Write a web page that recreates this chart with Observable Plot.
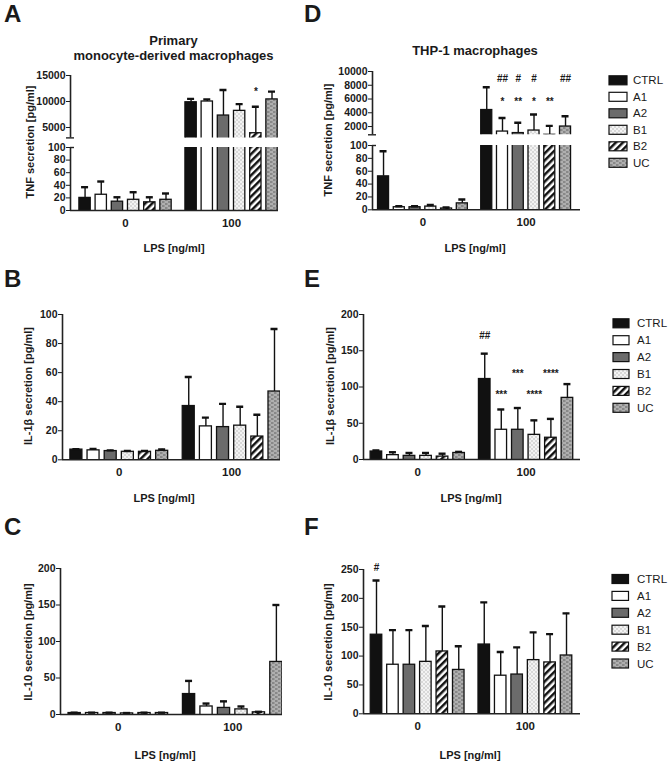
<!DOCTYPE html>
<html>
<head>
<meta charset="utf-8">
<script src="https://cdn.jsdelivr.net/npm/d3@7"></script>
<script src="https://cdn.jsdelivr.net/npm/@observablehq/plot@0.6"></script>
<style>
html,body{margin:0;padding:0;background:#fff;}
#fig{position:relative;width:671px;height:765px;overflow:hidden;background:#fff;color:#1a1a1a;
  font-family:"Liberation Sans",Arial,Helvetica,sans-serif;}
#fig svg.seg{position:absolute;}
#fig svg.seg text{font-weight:bold;}
#fig [aria-label="x-axis tick label"]{font-size:11.5px;}
</style>
</head>
<body>
<svg width="0" height="0" style="position:absolute">
  <defs>
    <pattern id="pat-B1" patternUnits="userSpaceOnUse" width="4" height="4">
      <rect width="4" height="4" fill="#f3f3f3"/>
      <rect x="0.5" y="0.5" width="1" height="1" fill="#8a8a8a"/>
      <rect x="2.5" y="2.5" width="1" height="1" fill="#8a8a8a"/>
    </pattern>
    <pattern id="pat-B2" patternUnits="userSpaceOnUse" width="5" height="5" patternTransform="rotate(45)">
      <rect width="5" height="5" fill="#ffffff"/>
      <rect width="2.5" height="5" fill="#111111"/>
    </pattern>
    <pattern id="pat-UC" patternUnits="userSpaceOnUse" width="6" height="4">
      <rect width="6" height="4" fill="#888888"/>
      <rect x="0.5" y="0.5" width="3.5" height="1" fill="#d6d6d6"/>
      <rect x="3.5" y="2.5" width="3.5" height="1" fill="#d6d6d6"/>
      <rect x="-2.5" y="2.5" width="3.5" height="1" fill="#d6d6d6"/>
    </pattern>
  </defs>
</svg>
<div id="fig"></div>
<script>
// ---------------- data ----------------
const treatments = ["CTRL", "A1", "A2", "B1", "B2", "UC"];
const lpsLevels = ["0", "100"];

// Panel A: TNF, primary monocyte-derived macrophages (pg/ml)
const tnfPrimaryMean0 = [20, 25, 14, 17, 13, 17];
const tnfPrimarySd0 = [17, 21, 7, 12, 8, 10];
const tnfPrimaryMean100 = [9850, 10000, 7300, 8200, 3900, 10400];
const tnfPrimarySd100 = [650, 400, 4900, 1300, 5100, 1500];
const tnfPrimaryAnn = [{lps: "100", t: "B2", y: 12500, label: "*"}];

// Panel D: TNF, THP-1 macrophages
const tnfThpMean0 = [52, 4, 4, 5, 2, 10];
const tnfThpSd0 = [39, 1.5, 1.5, 2.5, 1.5, 6];
const tnfThpMean100 = [4400, 1270, 1050, 1420, 800, 2000];
const tnfThpSd100 = [3300, 1980, 1500, 2330, 1300, 1500];
const tnfThpAnn = [
  {lps: "100", t: "A1", y: 9000, label: "##"},
  {lps: "100", t: "A2", y: 9000, label: "#"},
  {lps: "100", t: "B1", y: 9000, label: "#"},
  {lps: "100", t: "UC", y: 9000, label: "##"},
  {lps: "100", t: "A1", y: 6000, label: "*"},
  {lps: "100", t: "A2", y: 6000, label: "**"},
  {lps: "100", t: "B1", y: 6000, label: "*"},
  {lps: "100", t: "B2", y: 6000, label: "**"}
];

// Panel B: IL-1β, primary
const il1PrimaryMean0 = [7, 6.5, 6, 5.5, 5.5, 6.2];
const il1PrimarySd0 = [0.3, 1, 0.5, 0.6, 0.6, 1];
const il1PrimaryMean100 = [37, 23, 22.5, 23.5, 16, 47];
const il1PrimarySd100 = [20, 6, 16, 13, 15, 43];

// Panel E: IL-1β, THP-1
const il1ThpMean0 = [11, 6, 5, 5, 4, 9];
const il1ThpSd0 = [1.5, 4, 4, 4, 4, 1.5];
const il1ThpMean100 = [111, 41, 41, 34, 30, 85];
const il1ThpSd100 = [35, 28, 30, 20, 26, 19];
const il1ThpAnn = [
  {lps: "100", t: "CTRL", y: 170, label: "##"},
  {lps: "100", t: "A1", y: 93, label: "***"},
  {lps: "100", t: "A2", y: 122, label: "***"},
  {lps: "100", t: "B1", y: 93, label: "****"},
  {lps: "100", t: "B2", y: 122, label: "****"}
];

// Panel C: IL-10, primary
const il10PrimaryMean0 = [2, 2, 2, 1.5, 2, 2];
const il10PrimarySd0 = [0.5, 0.5, 0.5, 0.5, 0.5, 0.5];
const il10PrimaryMean100 = [28, 11, 9, 7, 3, 72];
const il10PrimarySd100 = [18, 4, 9, 4, 0.7, 78];

// Panel F: IL-10, THP-1
const il10ThpMean0 = [137, 85, 85, 90, 108, 76];
const il10ThpSd0 = [94, 60, 60, 62, 78, 41];
const il10ThpMean100 = [120, 66, 68, 93, 89, 101];
const il10ThpSd100 = [73, 41, 47, 48, 49, 73];
const il10ThpAnn = [{lps: "0", t: "CTRL", y: 253, label: "#"}];

// ---------------- helpers ----------------
const FONT = '"Liberation Sans", Arial, Helvetica, sans-serif';
const INK = "#1a1a1a";
const fills = {CTRL: "#111111", A1: "#ffffff", A2: "#6b6b6b", B1: "url(#pat-B1)", B2: "url(#pat-B2)", UC: "url(#pat-UC)"};
const GROUP_OFFSET = 6.55;
const BAR_FRAC = 0.7;

function rows(m0, s0, m100, s100) {
  return [
    ...treatments.map((t, i) => ({lps: lpsLevels[0], t, v: m0[i], e: s0[i]})),
    ...treatments.map((t, i) => ({lps: lpsLevels[1], t, v: m100[i], e: s100[i]}))
  ];
}
const pos = d => (d.lps === lpsLevels[1] ? GROUP_OFFSET : 0) + treatments.indexOf(d.t);

const fig = document.getElementById("fig");

function segment(cfg) {
  const {data, ann = [], left, right, top, bottom, yDomain, yTicks, xDomain, showX = false,
         breakBelow = false, breakAbove = false} = cfg;
  const ml = 44, mr = 6, mt = 10, mb = showX ? 26 : 4;
  const w = right - left, h = bottom - top;
  const pxPerX = w / (xDomain[1] - xDomain[0]);
  const half = BAR_FRAC / 2;
  const cap = 3.5 / pxPerX;
  const tk = 4 / pxPerX;
  const span = yDomain[1] - yDomain[0];
  const stars = ann.filter(a => a.label.includes("*"));
  const hashes = ann.filter(a => a.label.includes("#"));
  const marks = [
    Plot.rect(data, {x1: d => pos(d) - half, x2: d => pos(d) + half,
      y1: () => yDomain[0] - span, y2: "v", fill: "t", stroke: "#111", strokeWidth: 1.3, clip: true}),
    Plot.ruleX(data, {x: pos, y1: "v", y2: d => d.v + d.e, stroke: "#111", strokeWidth: 1.4, clip: true}),
    Plot.ruleY(data, {y: d => d.v + d.e, x1: d => pos(d) - cap, x2: d => pos(d) + cap,
      stroke: "#111", strokeWidth: 2.4, clip: true}),
    Plot.ruleX([xDomain[0]], {stroke: "#222", strokeWidth: 1.6}),
    Plot.text(stars, {x: pos, y: "y", text: "label", fontSize: 10, fontWeight: "bold", dy: 3, fill: INK}),
    Plot.text(hashes, {x: pos, y: "y", text: "label", fontSize: 10, fontWeight: "bold", dy: 0, fill: INK})
  ];
  if (showX) marks.push(Plot.ruleY([yDomain[0]], {stroke: "#222", strokeWidth: 1.6}));
  if (breakBelow) marks.push(Plot.ruleY([yDomain[0]], {x1: xDomain[0] - tk, x2: xDomain[0] + tk, stroke: "#222", strokeWidth: 1.4}));
  if (breakAbove) marks.push(Plot.ruleY([yDomain[1]], {x1: xDomain[0], x2: xDomain[0] + tk, stroke: "#222", strokeWidth: 1.4}));
  const svg = Plot.plot({
    width: ml + w + mr,
    height: mt + h + mb,
    marginLeft: ml, marginRight: mr, marginTop: mt, marginBottom: mb,
    style: {fontFamily: FONT, fontSize: "10.5px", fontWeight: "bold", color: INK, background: "transparent", overflow: "visible"},
    x: showX
      ? {domain: xDomain, ticks: [2.5, GROUP_OFFSET + 2.5], tickFormat: d => lpsLevels[Math.round(d / GROUP_OFFSET)],
         tickSize: 0, tickPadding: 8, label: null}
      : {domain: xDomain, axis: null},
    y: {domain: yDomain, ticks: yTicks, tickSize: 4, tickPadding: 1, tickFormat: d => String(d), label: null},
    color: {domain: treatments, range: treatments.map(t => fills[t])},
    marks
  });
  svg.classList.add("seg");
  svg.style.left = (left - ml) + "px";
  svg.style.top = (top - mt) + "px";
  fig.appendChild(svg);
}

// ---------------- panels ----------------
const dataA = rows(tnfPrimaryMean0, tnfPrimarySd0, tnfPrimaryMean100, tnfPrimarySd100);
const dataD = rows(tnfThpMean0, tnfThpSd0, tnfThpMean100, tnfThpSd100);
const dataB = rows(il1PrimaryMean0, il1PrimarySd0, il1PrimaryMean100, il1PrimarySd100);
const dataE = rows(il1ThpMean0, il1ThpSd0, il1ThpMean100, il1ThpSd100);
const dataC = rows(il10PrimaryMean0, il10PrimarySd0, il10PrimaryMean100, il10PrimarySd100);
const dataF = rows(il10ThpMean0, il10ThpSd0, il10ThpMean100, il10ThpSd100);

segment({data: dataA, ann: tnfPrimaryAnn, left: 70, right: 278, top: 75, bottom: 137.4,
  yDomain: [3000, 15000], yTicks: [5000, 10000, 15000], xDomain: [-0.9, 11.95], breakBelow: true});
segment({data: dataA, left: 70, right: 278, top: 147, bottom: 210,
  yDomain: [0, 100], yTicks: [0, 20, 40, 60, 80, 100], xDomain: [-0.9, 11.95], showX: true, breakAbove: true});

segment({data: dataD, ann: tnfThpAnn, left: 372, right: 580, top: 71, bottom: 134.3,
  yDomain: [800, 10000], yTicks: [2000, 4000, 6000, 8000, 10000], xDomain: [-0.7, 12.5], breakBelow: true});
segment({data: dataD, left: 372, right: 580, top: 145, bottom: 209.3,
  yDomain: [0, 100], yTicks: [0, 20, 40, 60, 80, 100], xDomain: [-0.7, 12.5], showX: true, breakAbove: true});

segment({data: dataB, left: 62, right: 280, top: 314, bottom: 459.3,
  yDomain: [0, 100], yTicks: [0, 20, 40, 60, 80, 100], xDomain: [-0.81, 11.9], showX: true});
segment({data: dataE, ann: il1ThpAnn, left: 363, right: 580, top: 314, bottom: 459,
  yDomain: [0, 200], yTicks: [0, 50, 100, 150, 200], xDomain: [-0.78, 12.34], showX: true});

segment({data: dataC, left: 60, right: 282, top: 568, bottom: 714,
  yDomain: [0, 200], yTicks: [0, 50, 100, 150, 200], xDomain: [-0.81, 11.9], showX: true});
segment({data: dataF, ann: il10ThpAnn, left: 363, right: 580, top: 569, bottom: 713.3,
  yDomain: [0, 250], yTicks: [0, 50, 100, 150, 200, 250], xDomain: [-0.79, 12.4], showX: true});

// ---------------- overlay text & legends ----------------
const ov = d3.select(fig).append("svg")
  .attr("width", 671).attr("height", 765)
  .style("position", "absolute").style("left", "0px").style("top", "0px")
  .style("pointer-events", "none")
  .attr("font-family", FONT).attr("fill", INK);

[["A", 4, 22], ["D", 304, 22], ["B", 4, 287], ["E", 304, 287], ["C", 4, 535], ["F", 304, 535]]
  .forEach(([s, x, y]) => ov.append("text").attr("x", x).attr("y", y)
    .attr("font-size", 24).attr("font-weight", "bold").text(s));

[["Primary", 173.5, 44.5], ["monocyte-derived macrophages", 173.5, 59.5], ["THP-1 macrophages", 475, 54.5]]
  .forEach(([s, x, y]) => ov.append("text").attr("x", x).attr("y", y).attr("text-anchor", "middle")
    .attr("font-size", 13).attr("font-weight", "bold").text(s));

[["TNF secretion [pg/ml]", 30.5, 142], ["TNF secretion [pg/ml]", 328, 140],
 ["IL-1β secretion [pg/ml]", 28.5, 386], ["IL-1β secretion [pg/ml]", 330, 386],
 ["IL-10 secretion [pg/ml]", 28.5, 642], ["IL-10 secretion [pg/ml]", 328, 642]]
  .forEach(([s, x, y]) => ov.append("text")
    .attr("transform", `translate(${x},${y}) rotate(-90)`).attr("dy", "0.35em")
    .attr("text-anchor", "middle").attr("font-size", 11).attr("font-weight", "bold").text(s));

[[174, 248], [475, 248], [164, 498], [471, 498], [165, 755], [470, 755]]
  .forEach(([x, y]) => ov.append("text").attr("x", x).attr("y", y + 3.5).attr("text-anchor", "middle")
    .attr("font-size", 11).attr("font-weight", "bold").text("LPS [ng/ml]"));

function legend(x, w, tx, y0, step) {
  treatments.forEach((t, i) => {
    const y = y0 + i * step;
    ov.append("rect").attr("x", x).attr("y", y - 4.5).attr("width", w).attr("height", 9)
      .attr("fill", fills[t]).attr("stroke", "#111").attr("stroke-width", 1.2);
    ov.append("text").attr("x", tx).attr("y", y + 4).attr("font-size", 11.5).text(t);
  });
}
legend(609, 18, 633, 80.3, 16.5);
legend(613, 16, 637, 323.3, 16.9);
legend(612, 16.5, 637, 579, 16.9);
</script>
</body>
</html>
